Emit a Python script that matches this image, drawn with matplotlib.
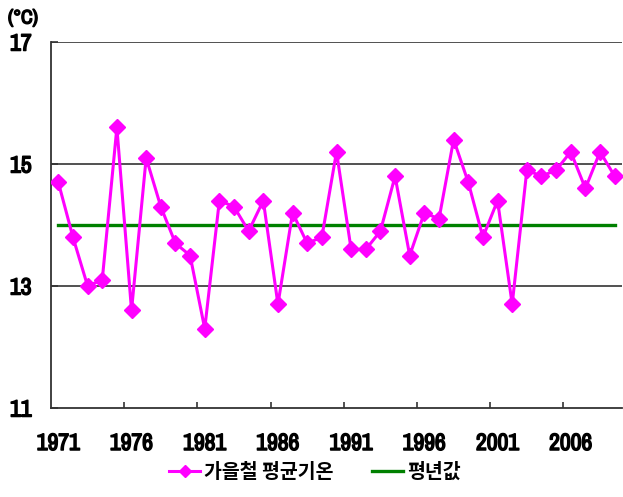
import numpy as np
import matplotlib.pyplot as plt
import matplotlib.patheffects as pe
from matplotlib.ticker import FixedLocator
from matplotlib import font_manager

# autumn mean temperature, 1971-2009
years = list(range(1971, 2010))
temps = [14.7, 13.8, 13.0, 13.1, 15.6, 12.6, 15.1, 14.3, 13.7, 13.5,
         12.3, 14.4, 14.3, 13.9, 14.4, 12.7, 14.2, 13.7, 13.8, 15.2,
         13.6, 13.6, 13.9, 14.8, 13.5, 14.2, 14.1, 15.4, 14.7, 13.8,
         14.4, 12.7, 14.9, 14.8, 14.9, 15.2, 14.6, 15.2, 14.8]
normal = 14.0
xlabels = ["1971", "1976", "1981", "1986", "1991", "1996", "2001", "2006"]
yticks = [11, 13, 15, 17]

# narrow face for the numbers, thickened with a stroke
cands = [f for f in font_manager.fontManager.ttflist
         if ('Narrow' in f.name or 'Condensed' in f.name)
         and 'Italic' not in f.fname and 'Oblique' not in f.fname]
cands.sort(key=lambda f: ('Bold' in f.fname, f.fname))
if cands:
    numprop = font_manager.FontProperties(fname=cands[0].fname, size=17)
    bold = [pe.withStroke(linewidth=1.1, foreground='black')]
else:
    numprop = font_manager.FontProperties(family='DejaVu Sans', weight='bold', size=14)
    bold = []

plt.rcParams['font.family'] = ['Noto Sans CJK KR', 'DejaVu Sans']

fig = plt.figure(figsize=(6.23, 4.97), dpi=100)
ax = fig.add_axes([51/623, 1 - 408/497, 571/623, 366/497])

l1, = ax.plot(years, temps, color='#ff00ff', lw=2.2, marker='D', ms=8,
              mec='#ff00ff', mfc='#ff00ff', label='가을철 평균기온', zorder=3)
l2, = ax.plot(years, [normal] * len(years), color='#008000', lw=2.4,
              label='평년값', zorder=2)

ax.set_xlim(1970.5, 2009.5)
ax.set_ylim(11, 17)

ax.set_xticks([int(s) for s in xlabels])
ax.set_xticklabels(xlabels, fontproperties=numprop, path_effects=bold)
ax.xaxis.set_minor_locator(FixedLocator(np.arange(1975.5, 2009, 5)))
ax.tick_params(axis='x', which='major', length=0, pad=18)
ax.tick_params(axis='x', which='minor', direction='in', length=4, width=1.2, color='#333333')

ax.set_yticks(yticks)
ax.set_yticklabels([str(v) for v in yticks], fontproperties=numprop, path_effects=bold)
ax.tick_params(axis='y', direction='in', length=5, width=1.2, pad=14, color='#333333')
for v in yticks[1:]:
    ax.axhline(v, color='#333333', lw=1.2, zorder=1)

for s in ['top', 'right']:
    ax.spines[s].set_visible(False)
for s in ['left', 'bottom']:
    ax.spines[s].set_color('#333333')
    ax.spines[s].set_linewidth(1.3)

unitprop = numprop.copy()
unitprop.set_size(14)
fig.text(8/623, 1 - 18/497, '(°C)', va='center', ha='left', fontproperties=unitprop,
         path_effects=bold)

leg = fig.legend(handles=[l1, l2], loc='center', bbox_to_anchor=(315/623, 1 - 472/497),
                 ncol=2, frameon=False, handlelength=1.6, columnspacing=2.0, handletextpad=0.2,
                 prop={'family': ['Noto Sans CJK KR', 'DejaVu Sans'], 'size': 14, 'weight': 'bold'})
leg.legend_handles[0].set_markersize(6)

fig.savefig('out.png', dpi=100)
